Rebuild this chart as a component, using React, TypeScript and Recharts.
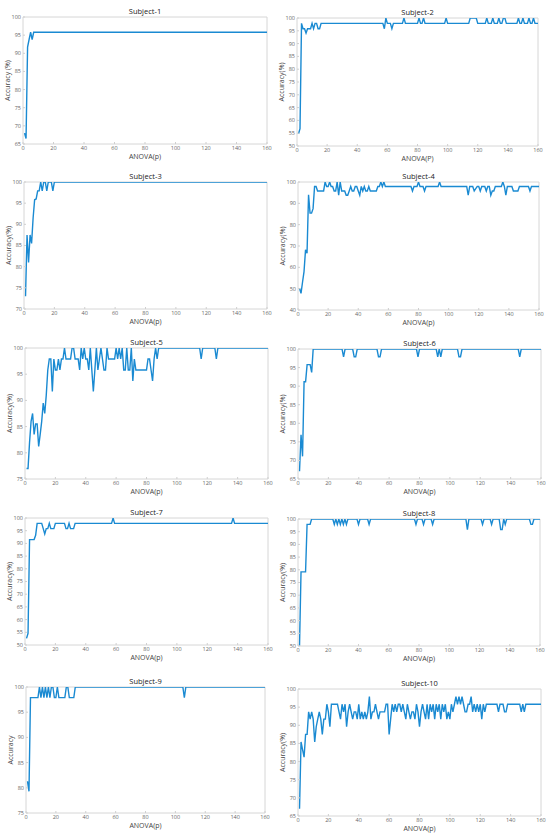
import React from 'react';
import { LineChart, Line, XAxis, YAxis, ReferenceLine } from 'recharts';

const xTicks = [0, 20, 40, 60, 80, 100, 120, 140, 160];

// Subject-1 (vertices of the polyline)
const s1X = [1, 2, 3, 4, 5, 6, 7, 160];
const s1Y = [68, 66.5, 91.7, 93.8, 95.8, 93.8, 95.8, 95.8];

// Subject-2
const s2X = [1, 2, 3, 4, 5, 6, 7, 9, 10, 11, 12, 13, 14, 15, 16, 57, 58, 59, 60, 62, 63, 64, 70, 71, 72, 80, 81, 82, 83, 84, 85, 98, 99, 100, 114, 115, 119, 120, 125, 126, 127, 129, 130, 131, 133, 134, 135, 136, 137, 138, 139, 146, 147, 148, 149, 150, 151, 153, 154, 155, 156, 157, 158, 160];
const s2Y = [54.8, 56.8, 97.9, 95.8, 95.8, 94.1, 95.8, 95.8, 97.9, 95.8, 97.9, 97.9, 95.8, 95.8, 97.9, 97.9, 95.8, 100, 97.9, 97.9, 95.8, 97.9, 97.9, 100, 97.9, 97.9, 100, 97.9, 97.9, 100, 97.9, 97.9, 100, 97.9, 97.9, 100, 100, 97.9, 97.9, 100, 97.9, 97.9, 100, 97.9, 97.9, 100, 97.9, 97.9, 100, 100, 97.9, 97.9, 100, 97.9, 97.9, 100, 97.9, 97.9, 100, 97.9, 97.9, 100, 97.9, 97.9];

// Subject-3
const s3X = [1, 2, 3, 4, 5, 6, 7, 8, 9, 10, 11, 12, 13, 14, 15, 16, 18, 19, 20, 160];
const s3Y = [73, 87.5, 81, 87.5, 85.5, 91.5, 95.8, 96, 97.9, 97.9, 100, 97.9, 100, 100, 97.9, 100, 100, 97.9, 100, 100];

// Subject-4
const s4X = [1, 2, 3, 4, 5, 6, 7, 8, 9, 10, 11, 12, 13, 17, 18, 19, 20, 21, 22, 23, 24, 25, 26, 27, 28, 29, 31, 32, 33, 34, 35, 36, 37, 38, 39, 40, 41, 42, 43, 44, 45, 46, 47, 48, 52, 53, 54, 55, 56, 57, 58, 75, 76, 77, 79, 80, 81, 83, 84, 85, 93, 94, 95, 112, 113, 114, 116, 117, 119, 120, 121, 122, 124, 125, 126, 127, 128, 129, 130, 131, 135, 136, 137, 138, 139, 142, 143, 146, 147, 153, 154, 155, 160];
const s4Y = [50.2, 47.8, 53, 58, 68.2, 66.6, 94, 85.4, 85.4, 87.5, 97.9, 97.9, 95.8, 95.8, 100, 97.9, 97.9, 100, 97.9, 97.9, 95.8, 95.8, 100, 93.8, 100, 95.8, 95.8, 93.8, 93.8, 95.8, 97.9, 95.8, 95.8, 97.9, 97.9, 95.8, 93.8, 97.9, 95.8, 97.9, 95.8, 95.8, 97.9, 95.8, 95.8, 97.9, 97.9, 100, 97.9, 100, 97.9, 97.9, 95.8, 97.9, 97.9, 100, 97.9, 97.9, 95.8, 97.9, 97.9, 100, 97.9, 97.9, 93.8, 97.9, 97.9, 95.8, 97.9, 97.9, 95.8, 97.9, 97.9, 95.8, 97.9, 97.9, 93.8, 95.8, 95.8, 97.9, 97.9, 100, 97.9, 93.8, 97.9, 97.9, 95.8, 95.8, 97.9, 97.9, 95.8, 97.9, 97.9];

// Subject-5
const s5X = [1, 2, 3, 4, 5, 6, 7, 8, 9, 10, 11, 12, 13, 14, 15, 16, 17, 18, 19, 20, 21, 22, 23, 24, 25, 26, 27, 30, 31, 32, 33, 35, 36, 37, 38, 39, 40, 41, 42, 43, 44, 45, 46, 47, 48, 49, 50, 51, 52, 53, 54, 55, 59, 60, 61, 62, 63, 64, 65, 66, 67, 68, 69, 70, 71, 72, 73, 80, 81, 82, 83, 84, 85, 86, 87, 88, 115, 116, 117, 125, 126, 127, 160];
const s5Y = [77, 77, 82, 86, 87.5, 83.5, 85.5, 85.5, 81.2, 83.5, 86, 89.5, 87.5, 91, 95.8, 97.9, 97.9, 91.7, 97.9, 95.8, 95.8, 97.9, 95.8, 97.9, 97.9, 100, 97.9, 97.9, 100, 100, 97.9, 97.9, 95.8, 100, 97.9, 100, 97.9, 97.9, 95.8, 100, 95.8, 91.7, 95.8, 100, 95.8, 97.9, 100, 97.9, 95.8, 95.8, 100, 97.9, 97.9, 100, 97.9, 100, 97.9, 100, 95.8, 95.8, 100, 95.8, 95.8, 100, 93.7, 97.9, 95.8, 95.8, 97.9, 97.9, 95.8, 93.7, 97.9, 100, 97.9, 100, 100, 97.9, 100, 100, 97.9, 100, 100];

// Subject-6
const s6X = [1, 2, 3, 4, 5, 6, 8, 9, 10, 29, 30, 31, 36, 37, 38, 39, 52, 53, 54, 55, 78, 79, 80, 91, 92, 93, 94, 95, 105, 106, 107, 108, 145, 146, 147, 160];
const s6Y = [67.1, 76.9, 71.1, 91.2, 91.2, 95.8, 95.8, 93.7, 100, 100, 97.9, 100, 100, 97.9, 97.9, 100, 100, 97.9, 97.9, 100, 100, 97.9, 100, 100, 97.9, 100, 97.9, 100, 100, 97.9, 97.9, 100, 100, 97.9, 100, 100];

// Subject-7
const s7X = [1, 2, 3, 6, 7, 8, 11, 12, 13, 14, 15, 16, 17, 19, 20, 26, 27, 28, 29, 30, 32, 33, 57, 58, 59, 136, 137, 138, 160];
const s7Y = [52.6, 54.6, 91.5, 91.5, 93.2, 97.9, 97.9, 95.8, 93.7, 95.8, 95.8, 97.9, 95.8, 95.8, 97.9, 97.9, 95.8, 95.8, 97.9, 95.8, 95.8, 97.9, 97.9, 100, 97.9, 97.9, 100, 97.9, 97.9];

// Subject-8
const s8X = [1, 2, 5, 6, 8, 9, 23, 24, 25, 26, 27, 28, 29, 30, 31, 32, 33, 39, 40, 41, 46, 47, 48, 77, 78, 79, 82, 83, 84, 88, 89, 90, 111, 112, 113, 121, 122, 123, 127, 128, 129, 133, 134, 135, 136, 137, 138, 153, 154, 155, 156, 160];
const s8Y = [50, 79.2, 79.2, 97.9, 97.9, 100, 100, 97.9, 100, 97.9, 100, 97.9, 100, 97.9, 100, 97.9, 100, 100, 97.9, 100, 100, 97.9, 100, 100, 97.9, 100, 100, 97.9, 100, 100, 97.9, 100, 100, 95.8, 100, 100, 97.9, 100, 100, 97.9, 100, 100, 95.8, 95.8, 100, 97.9, 100, 100, 97.9, 97.9, 100, 100];

// Subject-9
const s9X = [1, 2, 3, 8, 9, 10, 11, 12, 13, 14, 15, 16, 17, 18, 19, 20, 21, 22, 26, 27, 28, 29, 32, 33, 105, 106, 107, 160];
const s9Y = [81.3, 79.3, 97.9, 97.9, 100, 97.9, 100, 97.9, 100, 97.9, 100, 97.9, 100, 100, 97.9, 97.9, 100, 97.9, 97.9, 100, 100, 97.9, 97.9, 100, 100, 97.9, 100, 100];

// Subject-10
const s10X = [1, 2, 3, 4, 5, 6, 7, 8, 9, 10, 11, 12, 13, 14, 15, 16, 17, 18, 19, 20, 21, 22, 26, 27, 28, 29, 30, 31, 32, 33, 34, 35, 36, 37, 38, 39, 40, 41, 42, 43, 44, 45, 46, 47, 48, 49, 50, 51, 52, 53, 54, 57, 58, 59, 60, 61, 62, 63, 64, 65, 66, 67, 68, 69, 70, 71, 72, 73, 74, 75, 76, 77, 78, 79, 80, 81, 82, 83, 84, 85, 86, 87, 88, 89, 90, 91, 92, 93, 94, 95, 96, 97, 98, 99, 100, 101, 102, 103, 104, 105, 106, 107, 108, 109, 110, 111, 112, 113, 114, 115, 116, 117, 118, 119, 120, 121, 122, 123, 124, 131, 132, 133, 135, 136, 137, 138, 146, 147, 148, 149, 150, 160];
const s10Y = [67, 85.4, 83.3, 81.2, 87.5, 87.5, 93.7, 91.7, 93.7, 91.7, 85.4, 89.6, 91.7, 93.7, 91.7, 87.5, 91.7, 91.7, 95.8, 93.7, 89.6, 95.8, 95.8, 93.7, 91.7, 95.8, 93.7, 95.8, 89.6, 93.7, 95.8, 93.7, 91.7, 93.7, 93.7, 91.7, 95.8, 91.7, 93.7, 91.7, 93.7, 91.7, 93.7, 97.9, 91.7, 93.7, 93.7, 95.8, 93.7, 91.7, 93.7, 93.7, 95.8, 95.8, 87.5, 91.7, 95.8, 93.7, 95.8, 93.7, 95.8, 95.8, 93.7, 95.8, 93.7, 91.7, 95.8, 93.7, 91.7, 93.7, 93.7, 91.7, 95.8, 93.7, 89.6, 93.7, 95.8, 93.7, 91.7, 95.8, 91.7, 95.8, 93.7, 95.8, 91.7, 95.8, 93.7, 95.8, 91.7, 95.8, 93.7, 95.8, 91.7, 93.7, 91.7, 95.8, 93.7, 95.8, 97.9, 95.8, 97.9, 95.8, 97.9, 95.8, 93.7, 93.7, 95.8, 95.8, 97.9, 93.7, 95.8, 93.7, 95.8, 93.7, 95.8, 91.7, 95.8, 93.7, 95.8, 95.8, 93.7, 95.8, 95.8, 93.7, 93.7, 95.8, 95.8, 93.7, 95.8, 93.7, 95.8, 95.8];

const titles = ['Subject-1', 'Subject-2', 'Subject-3', 'Subject-4', 'Subject-5', 'Subject-6', 'Subject-7', 'Subject-8', 'Subject-9', 'Subject-10'];
const xLabels = ['ANOVA(p)', 'ANOVA(P)', 'ANOVA(p)', 'ANOVA(p)', 'ANOVA(p)', 'ANOVA(p)', 'ANOVA(p)', 'ANOVA(p)', 'ANOVA(p)', 'ANOVA(p)'];
const yLabels = ['Accuracy (%)', 'Accuracy(%)', 'Accuracy(%)', 'Accuracy(%)', 'Accuracy(%)', 'Accuracy(%)', 'Accuracy(%)', 'Accuracy(%)', 'Accuracy', 'Accuracy(%)'];
const yTickSets = [
  [65, 70, 75, 80, 85, 90, 95, 100],
  [50, 55, 60, 65, 70, 75, 80, 85, 90, 95, 100],
  [70, 75, 80, 85, 90, 95, 100],
  [40, 50, 60, 70, 80, 90, 100],
  [75, 80, 85, 90, 95, 100],
  [65, 70, 75, 80, 85, 90, 95, 100],
  [50, 55, 60, 65, 70, 75, 80, 85, 90, 95, 100],
  [50, 55, 60, 65, 70, 75, 80, 85, 90, 95, 100],
  [75, 80, 85, 90, 95, 100],
  [65, 70, 75, 80, 85, 90, 95, 100],
];
const seriesX = [s1X, s2X, s3X, s4X, s5X, s6X, s7X, s8X, s9X, s10X];
const seriesY = [s1Y, s2Y, s3Y, s4Y, s5Y, s6Y, s7Y, s8Y, s9Y, s10Y];

// plot-area boxes [left, top, right, bottom] in page pixels
const boxes = [
  [23, 17, 267, 144],
  [297, 18, 538, 146],
  [24, 182, 267, 309],
  [298, 182, 539, 310],
  [25, 348, 268, 479],
  [298, 349, 541, 479],
  [25, 518, 268, 645],
  [298, 519, 540, 646],
  [26, 687, 265, 813],
  [298, 689, 541, 816],
];

const AXIS = '#d6d6d6';
const TICK_TXT = '#666';
const FONT = '"Open Sans", "Noto Sans", sans-serif';

function Panel({ i }: { i: number }) {
  const [l, t, r, b] = boxes[i];
  const padL = 26, padT = 16, padR = 6, padB = 26;
  const w = r - l + padL + padR;
  const h = b - t + padT + padB;
  const data = seriesX[i].map((x, k) => ({ x, y: seriesY[i][k] }));
  const yt = yTickSets[i];
  return (
    <div style={{ position: 'absolute', left: l - padL, top: t - padT, width: w, height: h }}>
      <div style={{ position: 'absolute', left: padL, top: padT - 11, width: r - l, textAlign: 'center', fontFamily: FONT, fontSize: 7.5, color: '#222', lineHeight: '10px' }}>
        {titles[i]}
      </div>
      <LineChart width={w} height={h} data={data} margin={{ top: padT, right: padR, bottom: padB - 14, left: padL - 22 }}>
        <XAxis
          dataKey="x"
          type="number"
          domain={[0, 160]}
          ticks={xTicks}
          allowDataOverflow
          height={14}
          stroke={AXIS}
          tickLine={{ stroke: '#cfcfcf' }}
          tickSize={-2}
          tickMargin={4}
          tick={{ fontSize: 5.5, fill: TICK_TXT, fontFamily: FONT }}
          interval={0}
          label={{ value: xLabels[i], position: 'insideBottom', offset: -1, style: { fontSize: 7, fill: '#444', fontFamily: FONT } }}
        />
        <YAxis
          type="number"
          domain={[yt[0], 100]}
          ticks={yt}
          allowDataOverflow
          width={22}
          stroke={AXIS}
          tickLine={{ stroke: '#cfcfcf' }}
          tickSize={-2}
          tickMargin={4}
          interval={0}
          tick={{ fontSize: 5.5, fill: TICK_TXT, fontFamily: FONT }}
          label={{ value: yLabels[i], angle: -90, position: 'insideLeft', offset: 7, style: { fontSize: 7, fill: '#444', fontFamily: FONT, textAnchor: 'middle' } }}
        />
        <ReferenceLine y={100} stroke={AXIS} strokeWidth={1} />
        <ReferenceLine x={160} stroke={AXIS} strokeWidth={1} />
        <Line dataKey="y" type="linear" stroke="#1a8ad2" strokeWidth={1.4} dot={false} isAnimationActive={false} />
      </LineChart>
    </div>
  );
}

export default function App() {
  return (
    <div style={{ position: 'absolute', left: 0, top: 0, width: 550, height: 840, background: '#fff' }}>
      {titles.map((_, i) => (
        <Panel key={i} i={i} />
      ))}
    </div>
  );
}
